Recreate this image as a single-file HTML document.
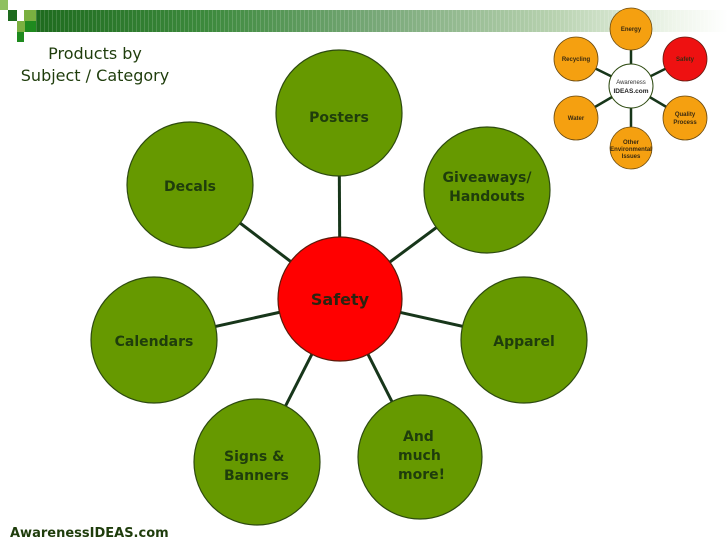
<!DOCTYPE html>
<html><head><style>
body{margin:0;width:728px;height:546px;background:#fff;overflow:hidden;position:relative;font-family:"DejaVu Sans","Liberation Sans",sans-serif}
.t{position:absolute;color:#1f3d0c;font-size:16px;text-align:center;font-family:"DejaVu Sans",sans-serif}
</style></head><body>
<div style="position:absolute;left:36px;top:10px;width:692px;height:22px;background:repeating-linear-gradient(90deg,rgba(255,255,255,0.15) 0 1px,transparent 1px 4px),linear-gradient(90deg,#1e6b1e 0%,#3d8a3d 25%,#7aa97a 50%,#b8d2b0 75%,#eef5ea 92%,#fff 100%)"></div>
<div style="position:absolute;left:0;top:0;width:8px;height:10px;background:#8fc060"></div>
<div style="position:absolute;left:8px;top:10px;width:9px;height:11px;background:#1e6b1e"></div>
<div style="position:absolute;left:24px;top:10px;width:12px;height:11px;background:#7ab040"></div>
<div style="position:absolute;left:17px;top:21px;width:8px;height:11px;background:#7ab040"></div>
<div style="position:absolute;left:25px;top:21px;width:11px;height:11px;background:#1e8a1e"></div>
<div style="position:absolute;left:17px;top:32px;width:7px;height:10px;background:#1e8a1e"></div>
<div class="t" style="left:10px;top:43px;width:170px;line-height:22px">Products by<br>Subject / Category</div>
<div style="position:absolute;left:10px;top:526px;font-size:13px;font-weight:bold;color:#1f3d0c">AwarenessIDEAS.com</div>
<svg width="728" height="546" style="position:absolute;left:0;top:0">
<g stroke="#17361a" stroke-width="3">
<line x1="340" y1="299" x2="339" y2="113"/><line x1="340" y1="299" x2="190" y2="185"/><line x1="340" y1="299" x2="487" y2="190"/>
<line x1="340" y1="299" x2="154" y2="340"/><line x1="340" y1="299" x2="524" y2="340"/><line x1="340" y1="299" x2="257" y2="462"/><line x1="340" y1="299" x2="420" y2="457"/>
</g>
<g fill="#669900" stroke="#2d4a10" stroke-width="1.2">
<circle cx="339" cy="113" r="63"/><circle cx="190" cy="185" r="63"/><circle cx="487" cy="190" r="63"/>
<circle cx="154" cy="340" r="63"/><circle cx="524" cy="340" r="63"/><circle cx="257" cy="462" r="63"/><circle cx="420" cy="457" r="62"/>
</g>
<circle cx="340" cy="299" r="62" fill="#ff0000" stroke="#5a1a0a" stroke-width="1.2"/>
<g font-family="DejaVu Sans,sans-serif" font-weight="bold" font-size="14" fill="#1f3d0c" text-anchor="middle">
<text x="339" y="122">Posters</text><text x="190" y="191">Decals</text>
<text x="487" y="182">Giveaways/</text><text x="487" y="201">Handouts</text>
<text x="154" y="346">Calendars</text><text x="524" y="346">Apparel</text>
<text x="224" y="461" text-anchor="start">Signs &amp;</text><text x="224" y="480" text-anchor="start">Banners</text>
<text x="403" y="441" text-anchor="start">And</text><text x="398" y="460" text-anchor="start">much</text><text x="398" y="479" text-anchor="start">more!</text>
<text x="340" y="305" fill="#2b2410" font-size="16">Safety</text>
</g>
<g stroke="#17361a" stroke-width="2.5">
<line x1="631" y1="86" x2="631" y2="29"/><line x1="631" y1="86" x2="576" y2="59"/><line x1="631" y1="86" x2="685" y2="59"/>
<line x1="631" y1="86" x2="576" y2="118"/><line x1="631" y1="86" x2="685" y2="118"/><line x1="631" y1="86" x2="631" y2="148"/>
</g>
<g fill="#f5a010" stroke="#6a4a10" stroke-width="0.8">
<circle cx="631" cy="29" r="21"/><circle cx="576" cy="59" r="22"/><circle cx="576" cy="118" r="22"/><circle cx="685" cy="118" r="22"/><circle cx="631" cy="148" r="21"/>
</g>
<circle cx="685" cy="59" r="22" fill="#ee1111" stroke="#6a1a10" stroke-width="0.8"/>
<circle cx="631" cy="86" r="22" fill="#fff" stroke="#2d4a10" stroke-width="1"/>
<g font-family="Liberation Sans,sans-serif" font-weight="bold" font-size="6" fill="#3a2a10" text-anchor="middle">
<text x="631" y="31">Energy</text><text x="576" y="61">Recycling</text><text x="685" y="61">Safety</text>
<text x="576" y="120">Water</text><text x="685" y="116">Quality</text><text x="685" y="124">Process</text>
<text x="631" y="144">Other</text><text x="631" y="151">Environmental</text><text x="631" y="158">Issues</text>
<text x="631" y="84" font-weight="normal" fill="#333">Awareness</text><text x="631" y="93" font-size="6.5" fill="#222">IDEAS.com</text>
</g>
</svg>
</body></html>
